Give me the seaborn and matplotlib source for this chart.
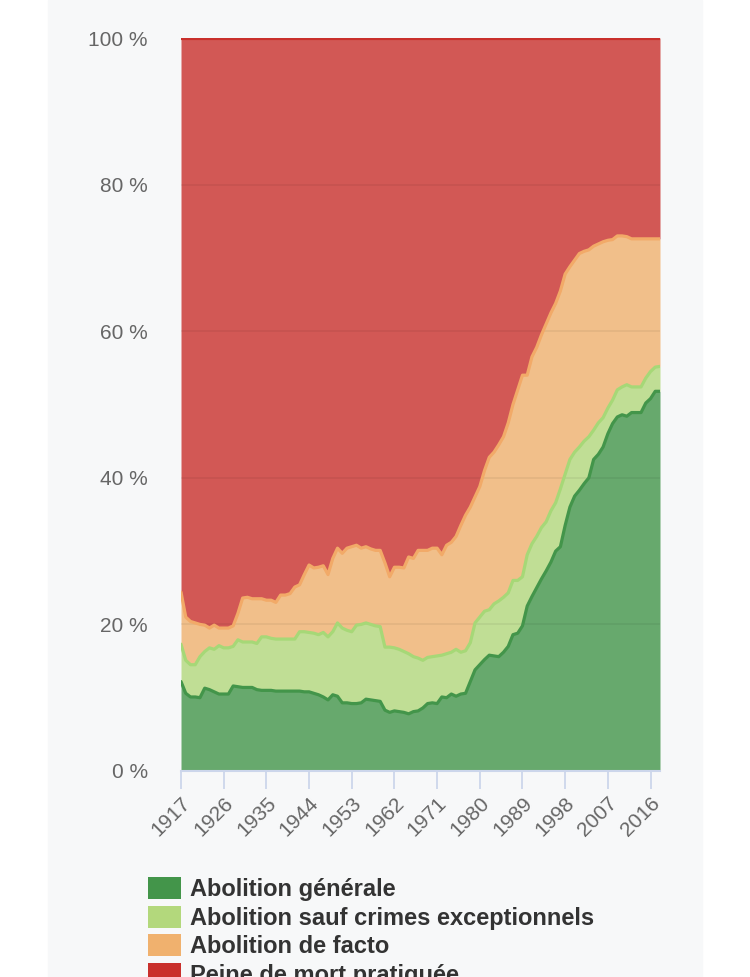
import numpy as np
import matplotlib
from matplotlib import pyplot as plt
from matplotlib.patches import Patch, Rectangle
import seaborn as sns

matplotlib.use('Agg')

years = list(range(1917, 2019))

# top edge (cumulative %) of each band
general_top = [
    12.2, 10.6, 10.1, 10.1, 10.0, 11.3, 11.1, 10.8, 10.5, 10.5,
    10.5, 11.6, 11.5, 11.4, 11.4, 11.4, 11.1, 11.0, 11.0, 11.0,
    10.9, 10.9, 10.9, 10.9, 10.9, 10.9, 10.8, 10.8, 10.6, 10.4,
    10.1, 9.7, 10.4, 10.2, 9.3, 9.3, 9.2, 9.2, 9.3, 9.8,
    9.7, 9.6, 9.5, 8.3, 8.0, 8.2, 8.1, 8.0, 7.8, 8.1,
    8.2, 8.6, 9.2, 9.3, 9.2, 10.1, 10.0, 10.5, 10.2, 10.5,
    10.6, 12.2, 13.8, 14.5, 15.2, 15.8, 15.7, 15.6, 16.2, 17.0,
    18.6, 18.8, 19.8, 22.5, 23.8, 25.0, 26.2, 27.3, 28.5, 30.0,
    30.6, 33.5, 36.0, 37.5, 38.3, 39.2, 40.0, 42.5, 43.2, 44.2,
    46.0, 47.4, 48.3, 48.6, 48.4, 48.9, 48.9, 48.9, 50.2, 50.8,
    51.8, 51.8,
]
exceptional_top = [
    17.3, 15.1, 14.5, 14.5, 15.6, 16.3, 16.8, 16.6, 17.1, 16.8,
    16.8, 17.0, 17.9, 17.6, 17.6, 17.6, 17.4, 18.3, 18.3, 18.1,
    18.0, 18.0, 18.0, 18.0, 18.0, 19.0, 19.0, 18.9, 18.8, 18.6,
    18.9, 18.3, 19.0, 20.2, 19.5, 19.2, 19.0, 19.9, 20.0, 20.2,
    20.0, 19.8, 19.7, 16.9, 16.9, 16.8, 16.6, 16.3, 16.0, 15.6,
    15.4, 15.1, 15.5, 15.6, 15.7, 15.8, 16.0, 16.2, 16.6, 16.2,
    16.4, 17.5, 20.2, 21.0, 21.8, 22.0, 22.8, 23.2, 23.7, 24.3,
    26.0, 26.0, 26.5, 29.5, 31.0, 32.0, 33.2, 34.0, 35.5, 36.6,
    38.5, 40.5, 42.5, 43.5, 44.2, 45.0, 45.6, 46.5, 47.5, 48.2,
    49.5, 50.6, 52.0, 52.4, 52.7, 52.4, 52.4, 52.4, 53.6, 54.5,
    55.1, 55.2,
]
de_facto_top = [
    24.4, 21.0, 20.4, 20.2, 20.0, 19.9, 19.5, 19.9, 19.5, 19.5,
    19.5, 19.8, 21.5, 23.6, 23.7, 23.5, 23.5, 23.5, 23.3, 23.3,
    23.0, 24.0, 24.0, 24.2, 25.1, 25.4, 26.8, 28.1, 27.7, 27.8,
    28.0, 26.8, 29.0, 30.4, 29.7, 30.4, 30.6, 30.8, 30.4, 30.6,
    30.3, 30.1, 30.1, 28.4, 26.5, 27.8, 27.8, 27.7, 29.2, 29.0,
    30.1, 30.1, 30.1, 30.4, 30.4, 29.5, 30.8, 31.2, 32.0, 33.5,
    34.9, 36.0, 37.4, 38.8, 41.0, 42.8, 43.5, 44.5, 45.6, 47.5,
    50.0, 52.0, 54.0, 54.0, 56.5, 57.8, 59.5, 61.0, 62.5, 63.8,
    65.5, 67.8, 68.8, 69.7, 70.6, 70.9, 71.1, 71.6, 71.9, 72.2,
    72.4, 72.5, 73.0, 73.0, 72.9, 72.6, 72.6, 72.6, 72.6, 72.6,
    72.6, 72.6,
]
practiced_top = [100.0] * len(years)

labels = ["Abolition générale", "Abolition sauf crimes exceptionnels",
          "Abolition de facto", "Peine de mort pratiquée"]
colors = ["#43954a", "#b3d87c", "#f0b16e", "#c9302c"]
line_colors = ["#43954a", "#a6d877", "#f2aa68", "#c9302c"]
tick_years = list(range(1917, 2017, 9))

sns.set_theme(style="white")
plt.rcParams['font.family'] = ['Liberation Sans', 'DejaVu Sans']

fig = plt.figure(figsize=(7.5, 9.77), dpi=100)
fig.patch.set_facecolor("white")
fig.patches.append(Rectangle((48 / 750, 0), 654 / 750, 1, transform=fig.transFigure,
                             color="#f7f8f9", zorder=-10))
ax = fig.add_axes([181 / 750, 206 / 977, 479 / 750, 733 / 977])
ax.set_facecolor("#f7f8f9")

bands = [[0.0] * len(years), general_top, exceptional_top, de_facto_top, practiced_top]
for i in range(4):
    ax.fill_between(years, bands[i], bands[i + 1], color=colors[i], alpha=0.8,
                    linewidth=0, zorder=1)
for i in range(4):
    sns.lineplot(x=years, y=bands[i + 1], color=line_colors[i], linewidth=2.3,
                 ax=ax, zorder=3)

for g in [20, 40, 60, 80]:
    ax.axhline(g, color="#000000", alpha=0.06, linewidth=1.2, zorder=2)

ax.set_xlim(1917, 2018)
ax.set_ylim(0, 100)
ax.set_yticks([0, 20, 40, 60, 80, 100])
ax.set_yticklabels([f"{v} %" for v in [0, 20, 40, 60, 80, 100]])
ax.set_xticks(tick_years)
ax.set_xticklabels([str(y) for y in tick_years], rotation=45, ha="right",
                   rotation_mode="anchor")
ax.tick_params(axis="y", length=0, pad=24, labelsize=15, labelcolor="#666666")
ax.tick_params(axis="x", length=13, width=1.3, color="#ccd6eb", pad=3,
               labelsize=15, labelcolor="#666666", bottom=True)
for s in ["top", "right", "left"]:
    ax.spines[s].set_visible(False)
ax.spines["bottom"].set_color("#ccd6eb")
ax.spines["bottom"].set_linewidth(1.5)
ax.spines["bottom"].set_zorder(4)
ax.set_xlabel("")
ax.set_ylabel("")

handles = [Patch(facecolor=c, edgecolor="none") for c in colors]
fig.legend(handles, labels, loc="upper left", bbox_to_anchor=(148 / 750, 100 / 977),
           frameon=False, borderpad=0, borderaxespad=0, handlelength=1.38,
           handleheight=1.05, handletextpad=0.42, labelspacing=0.2,
           prop={"weight": "bold", "size": 17}, labelcolor="#333333")

plt.savefig("out.png", dpi=100)
plt.close()
